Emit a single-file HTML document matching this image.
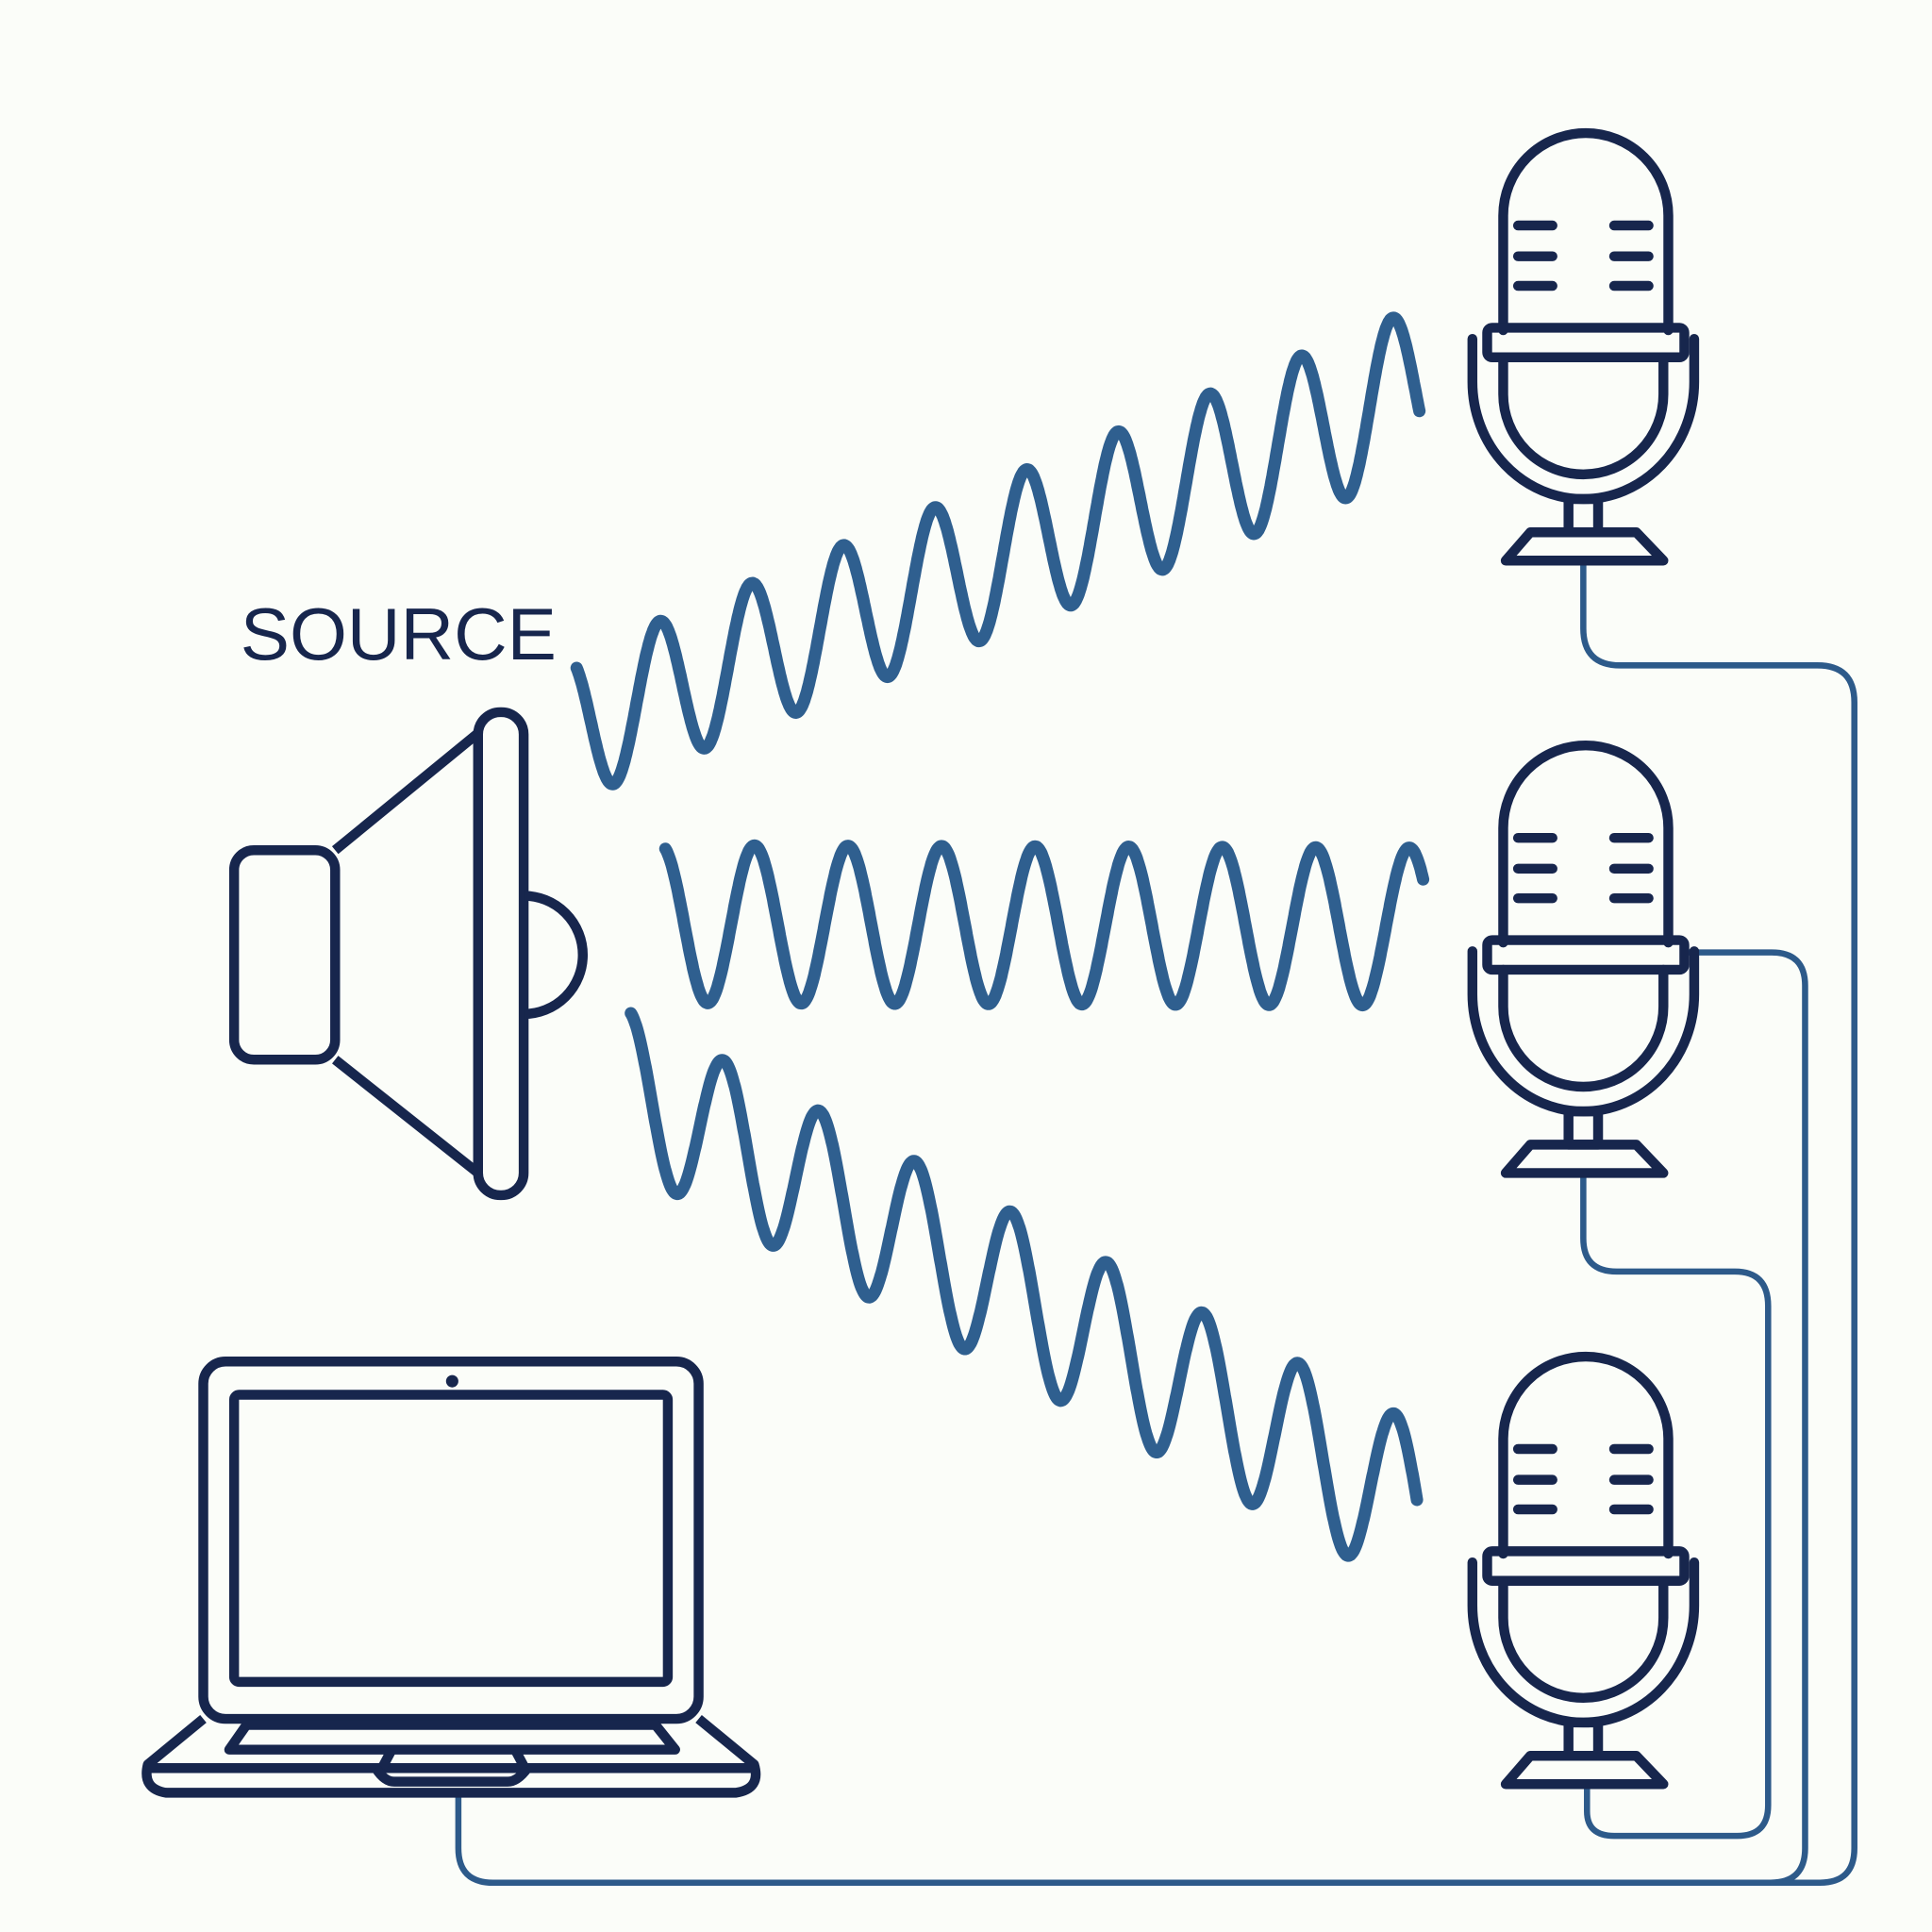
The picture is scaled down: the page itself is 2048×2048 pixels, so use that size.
<!DOCTYPE html>
<html><head><meta charset="utf-8"><style>
html,body{margin:0;padding:0;background:#fbfdf9;}
svg{display:block;}
</style></head><body>
<svg id="s" width="2048" height="2048" viewBox="0 0 1568 1568" xmlns="http://www.w3.org/2000/svg">
<rect width="1568" height="1568" fill="#fbfdf9"/>
<text x="195" y="535" font-family="Liberation Sans, sans-serif" font-size="60" fill="#17264d">SOURCE</text>

<g fill="none" stroke="#2d5a8a" stroke-width="5">
<path d="M1285,458 V510 Q1285,540 1315,540 H1475 Q1505,540 1505,570 V1500 Q1505,1528 1477,1528 H400 Q372,1528 372,1500 V1455"/>
<path d="M1370,773 H1438 Q1465,773 1465,800 V1500 Q1465,1528 1437,1528"/>
<path d="M1285,955 V1005 Q1285,1032 1312,1032 H1408 Q1435,1032 1435,1060 V1465 Q1435,1490 1410,1490 H1310 Q1288,1490 1288,1470 V1452"/>
</g>

<g fill="none" stroke="#17264d" stroke-width="8" stroke-linejoin="round">
<rect x="190" y="690" width="82" height="170" rx="16"/>
<path d="M272,690 L388,595 M272,860 L388,952"/>
<rect x="388" y="578" width="37" height="392" rx="18"/>
<path d="M425,727 A48,48 0 0 1 425,823"/>
</g>

<g id="waves" fill="none" stroke="#2f5f8f" stroke-width="10" stroke-linecap="round" stroke-linejoin="round"></g>

<g fill="none" stroke="#17264d" stroke-width="8" stroke-linejoin="round">
<rect x="165" y="1105" width="402" height="290" rx="18"/>
<rect x="190" y="1132" width="352" height="233" rx="4"/>
<path d="M165,1395 L120,1432 Q115,1452 135,1455 H597 Q618,1452 612,1432 L567,1395"/>
<path d="M118,1435 H614"/>
<path d="M200,1400 H532 L548,1420 H186 Z"/>
<path d="M318,1420 L310,1435 M418,1420 L426,1435"/>
<path d="M305,1435 Q312,1446 320,1446 H412 Q420,1446 428,1435"/>
</g>
<circle cx="367" cy="1121" r="5" fill="#17264d"/>

<g id="mics"></g>
</svg>
<script>
var NS="http://www.w3.org/2000/svg";
function wave(x0,y0,x1,y1,cycles,a0,a1,ph){
  var d="",n=900;
  for(var i=0;i<=n;i++){
    var t=i/n,x=x0+(x1-x0)*t,y=y0+(y1-y0)*t;
    var a=a0+(a1-a0)*t;
    y+= -a*Math.cos(2*Math.PI*cycles*t+ph);
    d+=(i?"L":"M")+x.toFixed(1)+","+y.toFixed(1);
  }
  var p=document.createElementNS(NS,"path");p.setAttribute("d",d);
  document.getElementById("waves").appendChild(p);
}
wave(468,590,1152,315,9.2,58,66,0.6);
wave(540,750,1155,752,8.1,64,64,0.3);
wave(512,885,1150,1225,8.2,64,68,0.2);

var mics=document.getElementById("mics");
[0,497,993].forEach(function(dy){
  var g=document.createElementNS(NS,"g");
  g.setAttribute("transform","translate(0,"+dy+")");
  g.setAttribute("fill","none");g.setAttribute("stroke","#17264d");
  g.setAttribute("stroke-width","8");g.setAttribute("stroke-linejoin","round");g.setAttribute("stroke-linecap","round");
  g.innerHTML='<path d="M1220,268 V175 A67,67 0 0 1 1354,175 V268"/>'+
  '<path d="M1232,183 H1260 M1232,208 H1260 M1232,232 H1260 M1310,183 H1338 M1310,208 H1338 M1310,232 H1338"/>'+
  '<rect x="1207" y="266" width="160" height="24" rx="4"/>'+
  '<path d="M1195,275 V310 A90,95 0 0 0 1375,310 V275"/>'+
  '<path d="M1220,290 V320 A65,65 0 0 0 1350,320 V290"/>'+
  '<rect x="1273" y="405" width="24" height="27"/>'+
  '<path d="M1242,432 H1328 L1350,455 H1222 Z"/>';
  mics.appendChild(g);
});
</script>
</body></html>
